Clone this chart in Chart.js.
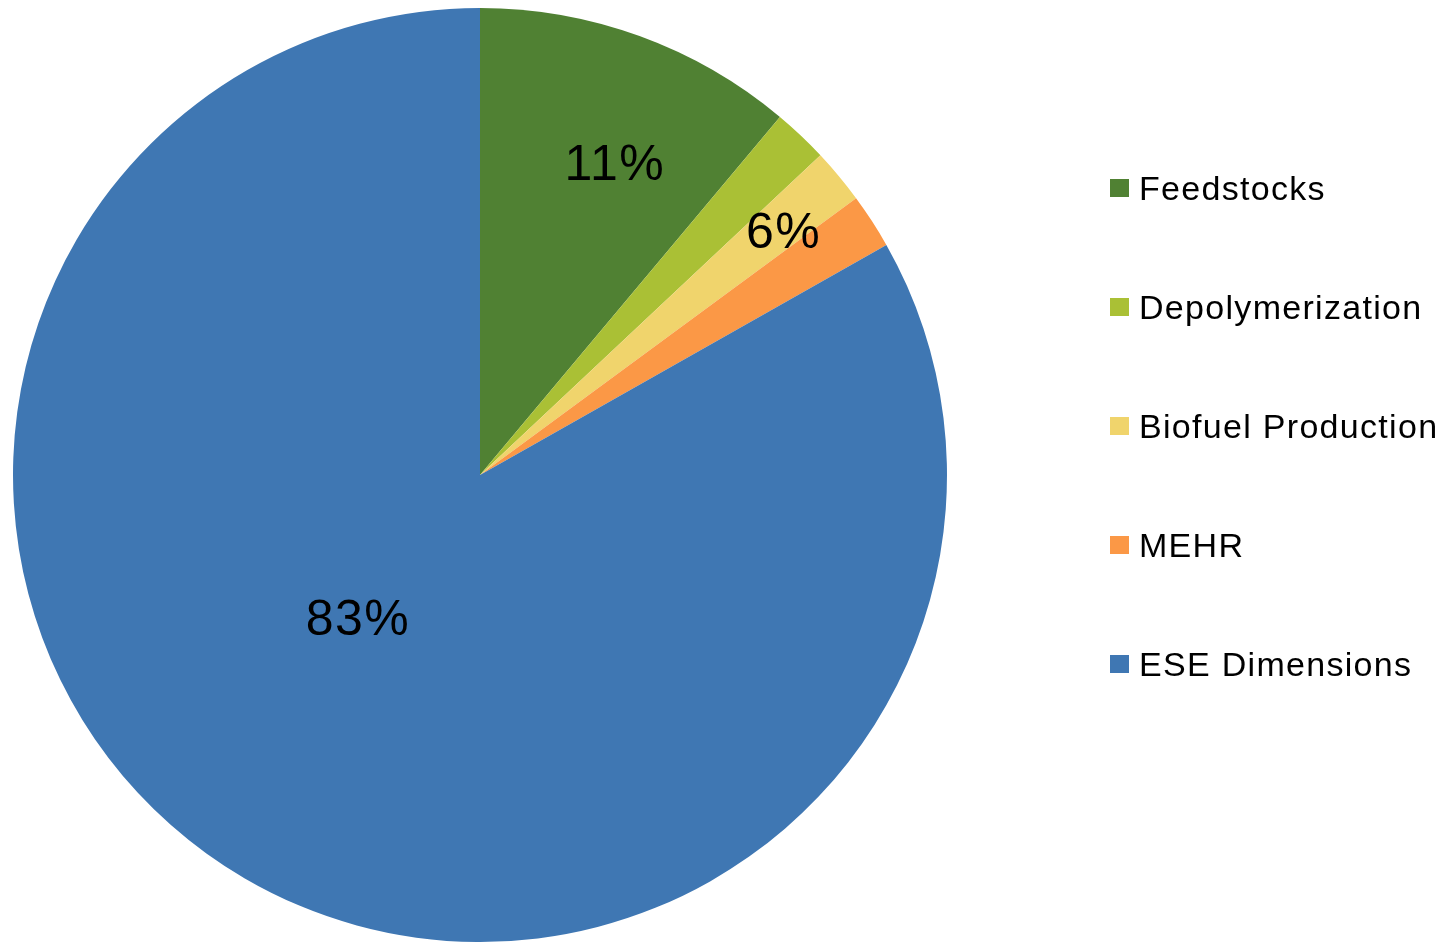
<!DOCTYPE html>
<html>
<head>
<meta charset="utf-8">
<script src="https://cdn.jsdelivr.net/npm/chart.js@4/dist/chart.umd.min.js"></script>
<style>
  html, body { margin: 0; padding: 0; background: #fff; }
  #wrap { position: relative; width: 1448px; height: 942px; }
  #chart { position: absolute; left: 0; top: 0; }
  #legend { position: absolute; left: 1110px; top: 0; font-family: "Liberation Sans", Arial, sans-serif; font-size: 34px; letter-spacing: 1.3px; color: #000; }
  .item { position: absolute; left: 0; height: 34px; line-height: 34px; white-space: nowrap; }
  .box { position: absolute; left: 0; top: 8px; width: 19px; height: 18px; }
  .txt { position: absolute; left: 29px; top: 0; }
</style>
</head>
<body>
<div id="wrap">
  <canvas id="chart" width="1448" height="942"></canvas>
  <div id="legend"></div>
</div>
<script>
const categories = ['Feedstocks', 'Depolymerization', 'Biofuel Production', 'MEHR', 'ESE Dimensions'];
const shares = [11.1, 1.9, 1.9, 1.9, 83.2];
const colors = ['#508133', '#aac035', '#f0d46c', '#fb9846', '#3f77b3'];

// percentage labels shown on the pie (the three small slices share one label)
const labelTexts = ['11%', '6%', '83%'];
const labelSlices = [[0, 0], [1, 3], [4, 4]];
const labelRadius = [0.722, 0.83, 0.408];
const labelAngle = [0.59, 0.565, 0.532];

const pieLabels = {
  id: 'pieLabels',
  afterDatasetsDraw(chart) {
    const arcs = chart.getDatasetMeta(0).data;
    const ctx = chart.ctx;
    ctx.save();
    ctx.font = '50px "Liberation Sans", Arial, sans-serif';
    ctx.letterSpacing = '1.5px';
    ctx.fillStyle = '#000';
    ctx.textAlign = 'center';
    ctx.textBaseline = 'middle';
    labelTexts.forEach((text, i) => {
      const a0 = arcs[labelSlices[i][0]];
      const a1 = arcs[labelSlices[i][1]];
      const ang = a0.startAngle + (a1.endAngle - a0.startAngle) * labelAngle[i];
      const r = a0.outerRadius * labelRadius[i];
      ctx.fillText(text, a0.x + Math.cos(ang) * r, a0.y + Math.sin(ang) * r);
    });
    ctx.restore();
  }
};

const chart = new Chart(document.getElementById('chart'), {
  type: 'pie',
  data: {
    labels: categories,
    datasets: [{
      data: shares,
      backgroundColor: colors,
      borderWidth: 0
    }]
  },
  options: {
    responsive: false,
    animation: false,
    layout: { padding: { left: 13, top: 8, right: 501, bottom: 0 } },
    plugins: {
      legend: { display: false },
      tooltip: { enabled: false }
    }
  },
  plugins: [pieLabels]
});

// legend on the right, built from the chart's own labels
const legendEl = document.getElementById('legend');
chart.data.labels.forEach((label, i) => {
  const item = document.createElement('div');
  item.className = 'item';
  item.style.top = (171 + i * 119) + 'px';
  item.innerHTML = '<span class="box" style="background:' + colors[i] + '"></span><span class="txt">' + label + '</span>';
  legendEl.appendChild(item);
});
</script>
</body>
</html>
